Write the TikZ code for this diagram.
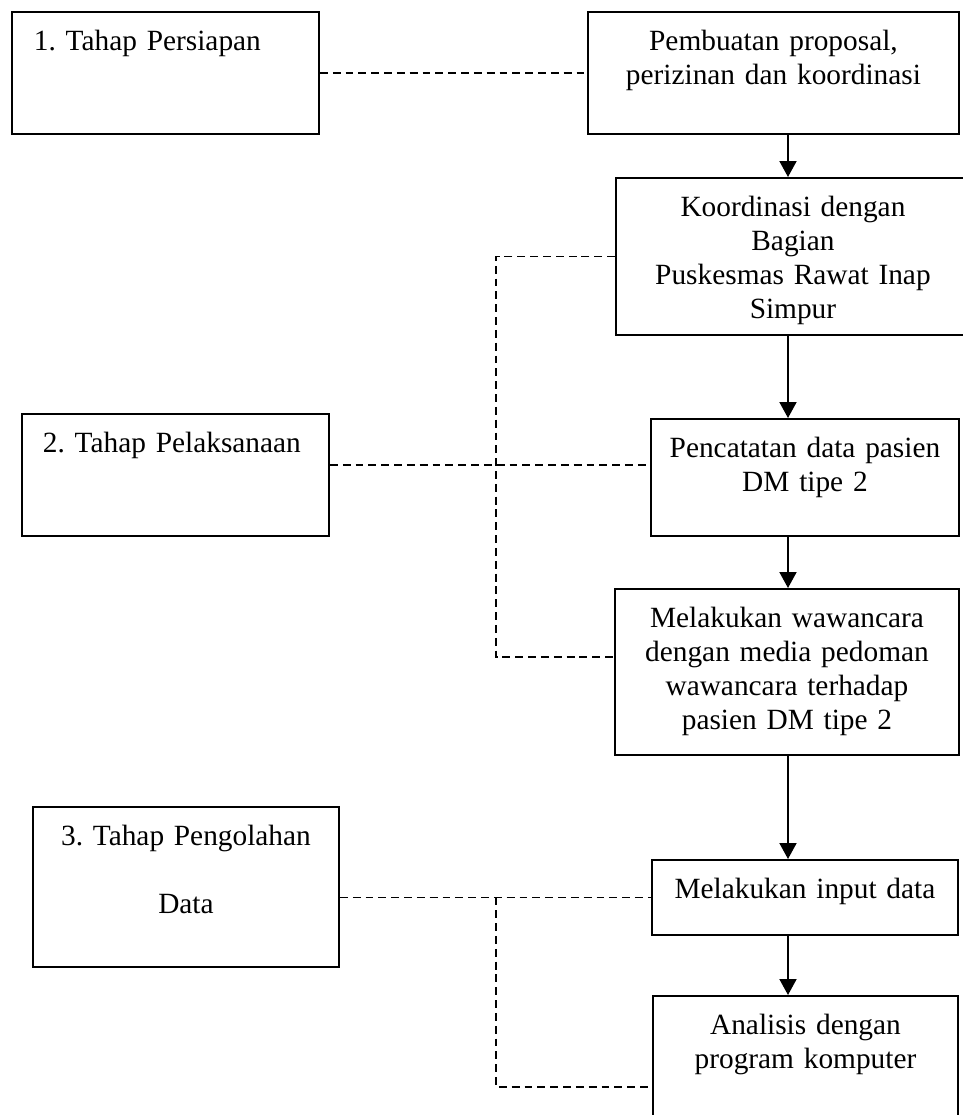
\documentclass[tikz,border=0pt]{standalone}
\usepackage{fontspec}
\setmainfont{Liberation Serif}
\usetikzlibrary{arrows.meta}
\frenchspacing

\begin{document}
\begin{tikzpicture}[
    box/.style={draw, line width=1.1pt, inner sep=0pt, align=center, anchor=north west,
                text height=0.78cm, font=\fontsize{16.7}{19.3}\selectfont},
    flow/.style={line width=1.1pt, -{Triangle[length=3.2mm, width=3.4mm]}},
    link/.style={line width=0.8pt, dash pattern=on 4.5pt off 2.8pt}
]
    \useasboundingbox (0,0) rectangle (19.26,-22.3);

    % Left column: the three stages
    \node[box, align=left, inner xsep=0.44cm, text width=5.26cm, text depth=1.66cm] (b1) at (0.22,-0.22) {1. Tahap Persiapan};
    \node[box, align=left, inner xsep=0.42cm, text width=5.30cm, text depth=1.66cm] (b2) at (0.42,-8.26) {2. Tahap Pelaksanaan};
    \node[box, text width=6.12cm, text depth=2.42cm] (b3) at (0.64,-16.12) {3. Tahap Pengolahan\\[19pt]Data};

    % Right column: the steps
    \node[box, text width=7.42cm, text depth=1.66cm] (p1) at (11.74,-0.22) {Pembuatan proposal,\\perizinan dan koordinasi};
    \node[box, text width=7.08cm, text depth=2.36cm] (p2) at (12.30,-3.54) {Koordinasi dengan\\Bagian\\Puskesmas Rawat Inap\\Simpur};
    \node[box, text width=6.16cm, text depth=1.56cm] (p3) at (13.00,-8.36) {Pencatatan data pasien\\DM tipe 2};
    \node[box, text width=6.88cm, text depth=2.54cm] (p4) at (12.28,-11.76) {Melakukan wawancara\\dengan media pedoman\\wawancara terhadap\\pasien DM tipe 2};
    \node[box, text width=6.12cm, text depth=0.72cm] (p5) at (13.02,-17.18) {Melakukan input data};
    \node[box, text width=6.10cm, text depth=2.22cm] (p6) at (13.04,-19.90) {Analisis dengan\\program komputer};

    % Arrows between the steps
    \coordinate (spine) at (15.76,0);
    \draw[flow] (p1.south -| spine) -- (p2.north -| spine);
    \draw[flow] (p2.south -| spine) -- (p3.north -| spine);
    \draw[flow] (p3.south -| spine) -- (p4.north -| spine);
    \draw[flow] (p4.south -| spine) -- (p5.north -| spine);
    \draw[flow] (p5.south -| spine) -- (p6.north -| spine);

    % Dashed links from stages to steps
    \coordinate (rail) at (9.92,0);
    \coordinate (m2) at ([yshift=0.2cm]b2.east);
    \coordinate (m4) at ([yshift=0.3cm]p4.west);
    \coordinate (m6) at ([yshift=-1.84cm]p6.north west);
    \draw[link] (b1) -- (p1);
    \draw[link] (m2) -- (m2 -| p3.west);
    \draw[link] (p2.west) -| (rail |- m4) -- (m4);
    \draw[link] (b3.east |- p5.west) -- (p5.west);
    \draw[link] (rail |- p5.west) |- (m6);
\end{tikzpicture}
\end{document}
